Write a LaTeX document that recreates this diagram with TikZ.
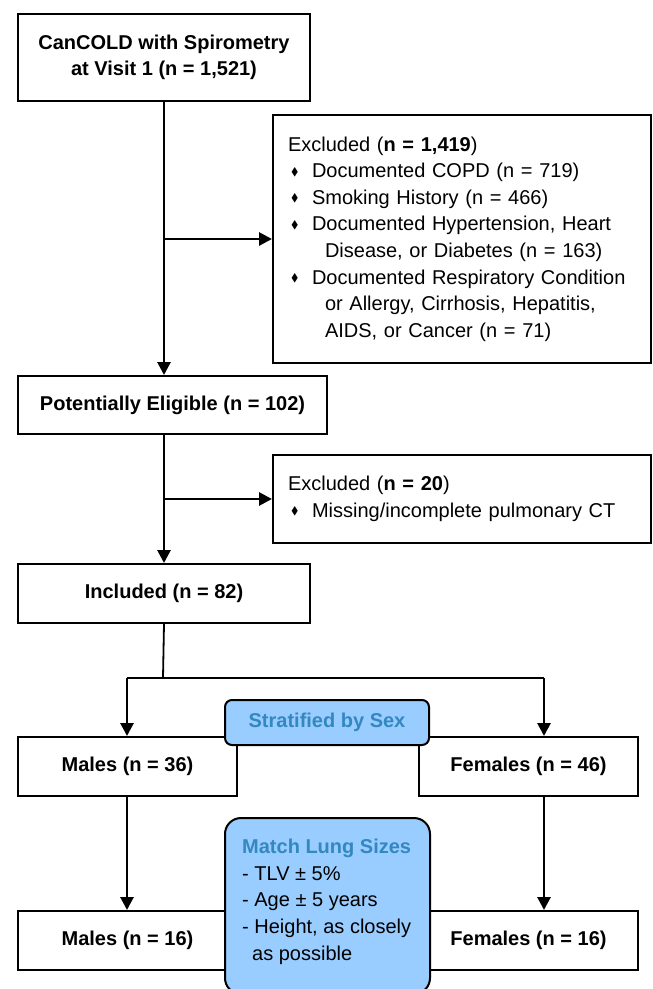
\documentclass[tikz,border=0pt]{standalone}
\usepackage{fontspec}
\setmainfont{Liberation Sans}
\usepackage{amssymb}
\usetikzlibrary{arrows.meta}
\definecolor{boxblue}{HTML}{99CCFF}
\definecolor{textblue}{HTML}{3388C0}
\newcommand{\bul}{\raisebox{0.25ex}{\fontsize{11}{11}\selectfont$\blacklozenge$}}
\newcommand{\itm}{\hspace*{3pt}\makebox[21pt][l]{\bul}}
\newcommand{\cnt}{\hspace*{37pt}}
\tikzset{
  basefont/.style={font=\fontsize{20}{26.6}\selectfont},
  box/.style={draw, line width=2pt, inner sep=0pt, anchor=north west, basefont, align=center},
  bbox/.style={box, font=\fontsize{20}{26.6}\selectfont\bfseries},
  exbox/.style={box, align=left, inner xsep=15pt},
  bluebox/.style={draw, line width=2pt, fill=boxblue, anchor=north west, inner sep=0pt},
  arr/.style={line width=2.8pt, -{Triangle[length=13pt,width=13pt]}},
  ln/.style={line width=2.4pt},
}
\begin{document}
\begin{tikzpicture}[x=1pt,y=-1pt]
\clip (0,0) rectangle (653,989);
\fill[white] (0,0) rectangle (653,989);
% main column
\node[bbox, minimum width=292pt, minimum height=87pt] (start) at (17,13) {CanCOLD with Spirometry\\at Visit 1 (n = 1,521)};
\node[exbox, text width=348pt, minimum height=248pt] (ex1) at (272,114) {Excluded (\textbf{n = 1,419})\\
\itm Documented COPD (n = 719)\\
\itm Smoking History (n = 466)\\
\itm Documented Hypertension, Heart\\
\cnt Disease, or Diabetes (n = 163)\\
\itm Documented Respiratory Condition\\
\cnt or Allergy, Cirrhosis, Hepatitis,\\
\cnt AIDS, or Cancer (n = 71)};
\node[bbox, minimum width=309pt, minimum height=58pt] (elig) at (17,375) {Potentially Eligible (n = 102)};
\node[exbox, text width=348pt, minimum height=88pt] (ex2) at (272,454) {Excluded (\textbf{n = 20})\\
\itm Missing/incomplete pulmonary CT};
\node[bbox, minimum width=292pt, minimum height=59pt] (incl) at (17,563) {Included (n = 82)};
\node[bbox, minimum width=219pt, minimum height=59pt] (males) at (17,736) {Males (n = 36)};
\node[bbox, minimum width=219pt, minimum height=59pt] (females) at (418,736) {Females (n = 46)};
\node[bbox, minimum width=219pt, minimum height=59pt] (males2) at (17,910) {Males (n = 16)};
\node[bbox, minimum width=219pt, minimum height=59pt] (females2) at (418,910) {Females (n = 16)};
% blue boxes
\node[bluebox, rounded corners=7pt, minimum width=204pt, minimum height=45pt,
      font=\fontsize{20}{26.6}\selectfont\bfseries, text=textblue] (strat) at (224,699) {Stratified by Sex};
\node[bluebox, rounded corners=16pt, minimum width=205pt, minimum height=176pt] (match) at (224,817) {};
\node[anchor=north west, inner sep=0pt, align=left, basefont] (mtext) at (242,839)
  {{\bfseries\color{textblue}Match Lung Sizes}\\
  - TLV ± 5\%\\
  - Age ± 5 years\\
  - Height, as closely\\
  \hspace*{10pt}as possible};
% connectors
\coordinate (j1) at (start.south |- ex1.west);
\coordinate (j2) at (start.south |- ex2.west);
\draw[arr] (start.south) -- (start.south |- elig.north);
\draw[arr] (j1) -- (ex1.west);
\draw[arr] (start.south |- elig.south) -- (start.south |- incl.north);
\draw[arr] (j2) -- (ex2.west);
\coordinate (split) at (163,678);
\coordinate (sl) at (127,678);
\coordinate (sr) at (544,678);
\draw[line width=1.8pt] (incl.south) -- (split);
\draw[ln] (sl) -- (sr);
\draw[arr] (sl) -- (sl |- males.north);
\draw[arr] (sr) -- (sr |- females.north);
\draw[arr] (sl |- males.south) -- (sl |- males2.north);
\draw[arr] (sr |- females.south) -- (sr |- females2.north);
\end{tikzpicture}
\end{document}
